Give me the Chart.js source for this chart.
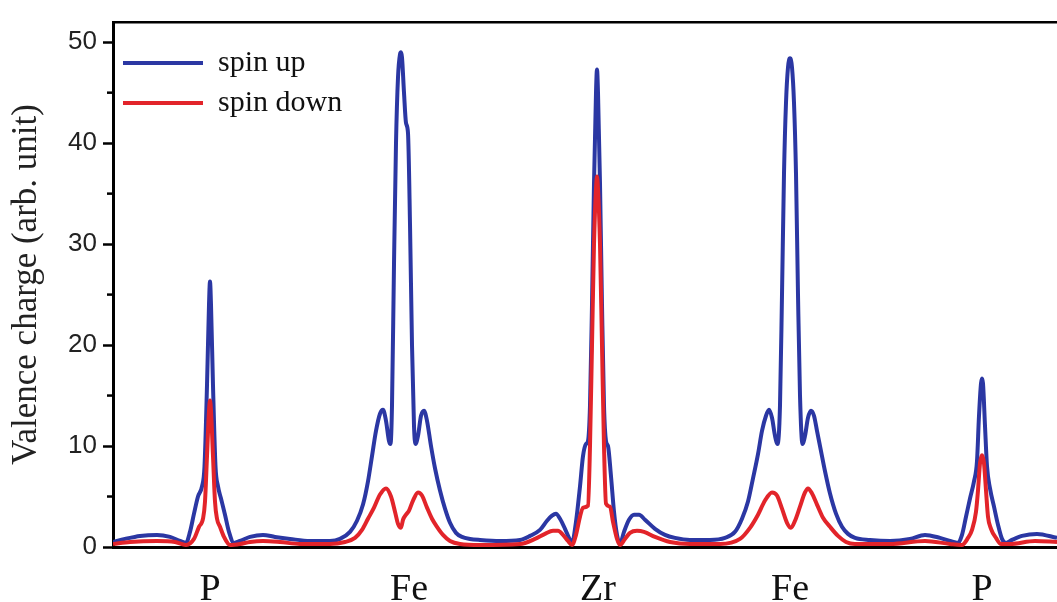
<!DOCTYPE html>
<html>
<head>
<meta charset="utf-8">
<title>Valence charge</title>
<script src="https://cdn.jsdelivr.net/npm/chart.js@4/dist/chart.umd.min.js"></script>
<style>
  html, body { margin: 0; padding: 0; background: #fff; }
  #wrap { width: 1057px; height: 602px; position: relative; }
</style>
</head>
<body>
<div id="wrap"><canvas id="chargeChart"></canvas></div>
<script>
// Atom sites along the path and their labels
const atomLabels = ['P', 'Fe', 'Zr', 'Fe', 'P'];
const atomPos = [9.7, 29.6, 48.5, 67.7, 86.9];

// y ticks
const yMajor = [0, 10, 20, 30, 40, 50];
const yMinor = [5, 15, 25, 35, 45];

// spin up
const upX = [0.0, 1.2, 2.7, 4.4, 5.7, 6.7, 7.3, 7.7, 8.1, 8.5, 8.9, 9.15, 9.4, 9.6, 9.7, 9.8, 10.0, 10.25, 10.5, 10.8,
  11.2, 11.6, 12.1, 12.7, 13.7, 15.0, 16.2, 17.7, 19.7, 21.7, 22.7, 23.7, 24.4, 25.0, 25.5, 25.9, 26.3, 26.7, 27.0, 27.3,
  27.6, 27.75, 27.9, 28.1, 28.3, 28.5, 28.7, 28.8, 28.9, 29.1, 29.3, 29.5, 29.7, 29.9, 30.1, 30.25, 30.5, 30.8, 31.1, 31.4,
  31.8, 32.2, 32.7, 33.2, 33.7, 34.3, 34.9, 35.7, 36.7, 38.7, 40.7, 41.7, 42.7, 43.4, 43.9, 44.3, 44.7, 45.2, 45.6, 45.9,
  46.3, 46.7, 47.0, 47.3, 47.5, 47.7, 47.9, 48.1, 48.3, 48.4, 48.5, 48.7, 48.9, 49.1, 49.3, 49.5, 49.8, 50.1, 50.4, 50.7,
  51.1, 51.6, 52.1, 52.6, 53.2, 54.2, 55.2, 56.2, 57.7, 59.7, 61.2, 62.2, 62.9, 63.5, 64.0, 64.5, 64.9, 65.3, 65.6, 65.9,
  66.2, 66.45, 66.7, 66.9, 67.1, 67.3, 67.5, 67.7, 67.9, 68.1, 68.3, 68.5, 68.7, 68.95, 69.2, 69.5, 69.8, 70.1, 70.4, 70.8,
  71.2, 71.7, 72.3, 72.9, 73.5, 74.2, 75.7, 77.7, 79.7, 81.2, 82.7, 83.7, 84.5, 84.9, 85.3, 85.7, 86.1, 86.4, 86.6, 86.8,
  86.9, 87.0, 87.2, 87.4, 87.7, 88.1, 88.5, 88.9, 89.3, 89.9, 90.9, 92.4, 94.4];
const upY = [0.5, 0.8, 1.1, 1.2, 1.0, 0.6, 0.4, 1.5, 3.3, 5.0, 6.0, 8, 16, 24, 26.3, 24, 16, 8, 6.0, 4.8,
  3.2, 1.5, 0.4, 0.6, 1.0, 1.2, 1.0, 0.8, 0.6, 0.6, 0.8, 1.5, 2.6, 4.2, 6.5, 9.0, 11.5, 13.2, 13.6, 12.5,
  10.5, 10.2, 14, 28, 40, 46.5, 48.8, 49.0, 48.5, 45, 42, 41, 32, 20, 12, 10.2, 11, 13, 13.5, 12.5,
  10, 7.8, 5.6, 3.8, 2.4, 1.4, 1.0, 0.8, 0.7, 0.6, 0.7, 1.1, 1.7, 2.6, 3.1, 3.3, 2.8, 1.8, 0.9, 0.4,
  2.5, 6.0, 9.0, 10.2, 10.5, 14, 24, 36, 45, 47.3, 45, 36, 24, 14, 10.5, 10.0, 7, 3.5, 1.2, 0.3,
  1.5, 2.7, 3.2, 3.2, 2.7, 1.8, 1.2, 0.9, 0.7, 0.7, 0.9, 1.5, 2.8, 4.5, 6.8, 9.2, 11.5, 13.0, 13.6, 12.8,
  11, 10.2, 14, 25, 37, 44, 47.5, 48.4, 47.5, 44, 37, 25, 15, 10.2, 11, 12.8, 13.5, 13.0, 11.5, 9.5,
  7.5, 5.3, 3.3, 2.0, 1.3, 0.9, 0.7, 0.6, 0.8, 1.2, 0.9, 0.6, 0.4, 1.2, 3.0, 4.8, 6.5, 8.5, 13, 16.2,
  16.7, 16.2, 12, 8, 5.8, 4.0, 2.2, 0.8, 0.4, 0.7, 1.1, 1.3, 0.9];

// spin down
const downX = [0.0, 1.7, 4.4, 6.2, 7.3, 8.1, 8.6, 9.0, 9.2, 9.4, 9.6, 9.7, 9.8, 10.0, 10.2, 10.4, 10.7, 11.1, 11.7, 12.7,
  13.7, 15.0, 16.7, 18.7, 21.7, 23.2, 24.2, 24.9, 25.5, 26.1, 26.7, 27.3, 27.8, 28.2, 28.5, 28.8, 29.0, 29.3, 29.6, 30.0,
  30.5, 30.9, 31.4, 31.9, 32.4, 33.0, 33.7, 34.7, 36.7, 40.7, 42.2, 43.2, 44.0, 44.5, 45.0, 45.5, 45.9, 46.3, 46.7, 47.0,
  47.5, 47.7, 47.9, 48.1, 48.3, 48.4, 48.5, 48.7, 48.9, 49.1, 49.3, 49.7, 50.0, 50.4, 50.7, 51.2, 51.7, 52.4, 53.1, 54.2,
  55.7, 57.7, 60.7, 62.7, 63.7, 64.5, 65.2, 65.9, 66.4, 66.9, 67.4, 67.8, 68.2, 68.7, 69.2, 69.5, 69.9, 70.4, 71.0, 71.7,
  72.5, 73.3, 74.2, 77.7, 81.2, 83.7, 84.9, 85.5, 85.9, 86.3, 86.5, 86.7, 86.9, 87.1, 87.3, 87.5, 87.8, 88.3, 88.8, 89.7,
  92.2, 94.4];
const downY = [0.3, 0.5, 0.6, 0.5, 0.2, 0.8, 2.0, 2.8, 4.5, 9, 13.5, 14.5, 13.5, 9, 4.5, 2.8, 2.0, 1.0, 0.2, 0.3,
  0.5, 0.6, 0.5, 0.3, 0.3, 0.5, 0.9, 1.7, 2.8, 3.9, 5.2, 5.8, 5.0, 3.5, 2.3, 1.9, 2.7, 3.2, 3.6, 4.6,
  5.4, 5.1, 3.9, 2.8, 2.0, 1.2, 0.6, 0.3, 0.2, 0.3, 0.8, 1.3, 1.6, 1.6, 1.2, 0.6, 0.2, 1.2, 3.0, 3.9,
  4.1, 10, 20, 30, 35.5, 36.7, 35.5, 30, 20, 10, 4.3, 4.0, 2.5, 0.8, 0.2, 0.8, 1.4, 1.6, 1.5, 1.0,
  0.5, 0.3, 0.3, 0.8, 1.9, 3.2, 4.6, 5.4, 5.1, 3.8, 2.4, 1.9, 2.6, 4.0, 5.4, 5.8, 5.3, 4.2, 2.9, 2.0,
  1.1, 0.5, 0.3, 0.3, 0.6, 0.3, 0.2, 0.9, 1.7, 3.5, 5.6, 8.3, 9.1, 8.3, 5.6, 3.0, 1.8, 0.9, 0.3, 0.3,
  0.6, 0.5];

const BLUE = '#2b37a3';
const RED = '#e2242a';
const serif = "'Liberation Serif', 'Times New Roman', serif";
const sans = "'Liberation Sans', Arial, sans-serif";

function toPoints(xs, ys) {
    return xs.map((x, i) => ({ x: x, y: ys[i] }));
}

// minor ticks on the left axis
const minorTicks = {
    id: 'minorTicks',
    afterDraw(chart) {
        const y = chart.scales.y;
        const ctx = chart.ctx;
        const left = chart.chartArea.left;
        ctx.save();
        ctx.strokeStyle = '#000';
        ctx.lineWidth = 2.5;
        yMinor.forEach(v => {
            const py = y.getPixelForValue(v);
            ctx.beginPath();
            ctx.moveTo(left - 6, py);
            ctx.lineTo(left, py);
            ctx.stroke();
        });
        ctx.restore();
    }
};

const ctx = document.getElementById('chargeChart').getContext('2d');
new Chart(ctx, {
    type: 'line',
    data: {
        datasets: [{
            label: 'spin up',
            data: toPoints(upX, upY),
            borderColor: BLUE,
            backgroundColor: BLUE,
            borderWidth: 4,
            order: 1
        }, {
            label: 'spin down',
            data: toPoints(downX, downY),
            borderColor: RED,
            backgroundColor: RED,
            borderWidth: 4,
            order: 0
        }]
    },
    options: {
        responsive: true,
        maintainAspectRatio: false,
        animation: false,
        events: [],
        layout: { padding: { top: 14, right: 0, left: 0, bottom: 0 } },
        elements: {
            point: { radius: 0 },
            line: { cubicInterpolationMode: 'monotone', fill: false }
        },
        plugins: {
            tooltip: { enabled: false },
            legend: {
                position: 'chartArea',
                align: 'start',
                title: { display: true, text: '', font: { size: 10 }, padding: { top: 26, bottom: 0 } },
                labels: {
                    boxWidth: 80,
                    boxHeight: 0,
                    padding: 10,
                    color: '#111',
                    font: { family: serif, size: 30 },
                    sort: (a, b) => a.datasetIndex - b.datasetIndex
                }
            }
        },
        scales: {
            x: {
                type: 'linear',
                min: 0,
                max: 94.4,
                afterBuildTicks: scale => { scale.ticks = atomPos.map(v => ({ value: v })); },
                afterFit: scale => { scale.height = 55; },
                ticks: {
                    autoSkip: false,
                    maxRotation: 0,
                    padding: 12,
                    color: '#111',
                    font: { family: serif, size: 38 },
                    callback: (value, i) => atomLabels[i]
                },
                grid: { display: false },
                border: { display: true, color: '#000', width: 3 }
            },
            xTop: {
                type: 'linear',
                position: 'top',
                min: 0,
                max: 94.4,
                ticks: { display: false },
                grid: { display: false },
                border: { display: true, color: '#000', width: 2.5 }
            },
            y: {
                min: 0,
                max: 52,
                afterBuildTicks: scale => { scale.ticks = yMajor.map(v => ({ value: v })); },
                afterFit: scale => { scale.width = 113; },
                ticks: {
                    padding: 6,
                    color: '#222',
                    font: { family: sans, size: 26 }
                },
                grid: {
                    drawOnChartArea: false,
                    drawTicks: true,
                    tickLength: 10,
                    tickWidth: 2.5,
                    tickColor: '#000'
                },
                border: { display: true, color: '#000', width: 3 },
                title: {
                    display: true,
                    text: 'Valence charge (arb. unit)',
                    color: '#222',
                    padding: { top: 6, bottom: 0 },
                    font: { family: serif, size: 35 }
                }
            }
        }
    },
    plugins: [minorTicks]
});
</script>
</body>
</html>
